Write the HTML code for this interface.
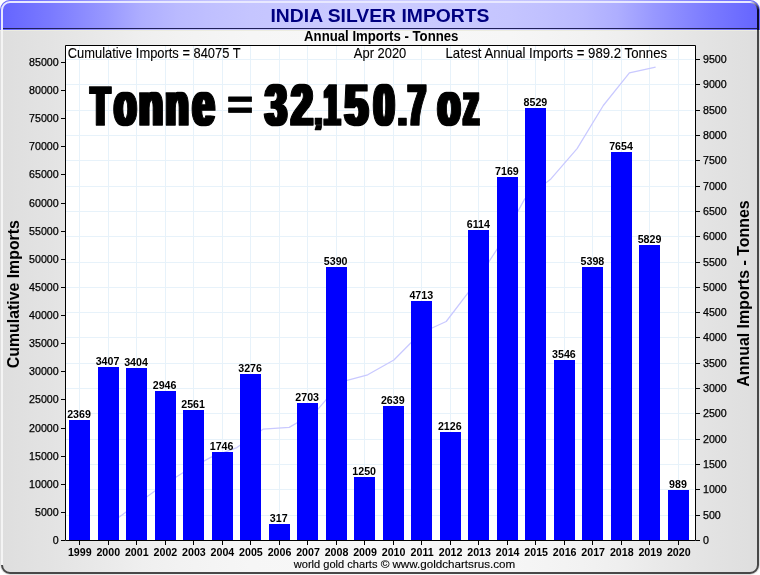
<!DOCTYPE html>
<html lang="en"><head><meta charset="utf-8"><title>India Silver Imports</title>
<style>html,body{margin:0;padding:0;background:#fff}body{width:760px;height:575px;overflow:hidden}svg{display:block}text{font-family:"Liberation Sans",sans-serif;fill:#000}</style></head><body>
<svg width="760" height="575" viewBox="0 0 760 575">
<defs>
<linearGradient id="gt" x1="0" x2="1" y1="0" y2="0"><stop offset="0.000" stop-color="#6464ff"/><stop offset="0.066" stop-color="#7a7aff"/><stop offset="0.140" stop-color="#9898ff"/><stop offset="0.187" stop-color="#aeaeff"/><stop offset="0.234" stop-color="#babaff"/><stop offset="0.280" stop-color="#c0c0ff"/><stop offset="0.330" stop-color="#c5c5ff"/><stop offset="0.500" stop-color="#cdcdff"/><stop offset="0.670" stop-color="#c5c5ff"/><stop offset="0.720" stop-color="#c0c0ff"/><stop offset="0.766" stop-color="#babaff"/><stop offset="0.813" stop-color="#aeaeff"/><stop offset="0.860" stop-color="#9898ff"/><stop offset="0.934" stop-color="#7a7aff"/><stop offset="1.000" stop-color="#6464ff"/></linearGradient>
<linearGradient id="gb" x1="0" x2="1" y1="0" y2="0"><stop offset="0.000" stop-color="#dedede"/><stop offset="0.066" stop-color="#e3e3e3"/><stop offset="0.140" stop-color="#eaeaea"/><stop offset="0.187" stop-color="#efefef"/><stop offset="0.234" stop-color="#f2f2f2"/><stop offset="0.280" stop-color="#f4f4f4"/><stop offset="0.330" stop-color="#f6f6f6"/><stop offset="0.500" stop-color="#f8f8f8"/><stop offset="0.670" stop-color="#f6f6f6"/><stop offset="0.720" stop-color="#f4f4f4"/><stop offset="0.766" stop-color="#f2f2f2"/><stop offset="0.813" stop-color="#efefef"/><stop offset="0.860" stop-color="#eaeaea"/><stop offset="0.934" stop-color="#e3e3e3"/><stop offset="1.000" stop-color="#dedede"/></linearGradient>
<clipPath id="ct"><rect x="0" y="0" width="760" height="30"/></clipPath><clipPath id="cb"><rect x="0" y="30" width="760" height="545"/></clipPath><linearGradient id="gc" gradientUnits="userSpaceOnUse" x1="750" y1="2" x2="758" y2="10"><stop offset="0" stop-color="#e8e8ff"/><stop offset="1" stop-color="#0c0c2c"/></linearGradient>
<clipPath id="fr"><rect x="0" y="0" width="760" height="575" rx="10" ry="10"/></clipPath>
<clipPath id="pc"><rect x="66" y="46" width="629" height="494"/></clipPath>
<filter id="fat" x="-5%" y="-30%" width="110%" height="160%"><feMorphology operator="dilate" radius="2 0"/><feGaussianBlur stdDeviation="0.5"/></filter>
</defs>
<g clip-path="url(#fr)">
<rect x="0" y="0" width="760" height="575" fill="url(#gb)"/>
<rect x="0" y="0" width="760" height="30" fill="url(#gt)"/>
<rect x="3" y="28" width="755" height="1" fill="#20205a"/>
<rect x="0" y="30" width="760" height="1" fill="#ecece0"/>
</g>
<g fill="none" stroke-width="2" clip-path="url(#ct)"><path d="M2 565 V10 A8 8 0 0 1 10 2 H750" stroke="#e8e8ff"/><path d="M758 10 V565 A8 8 0 0 1 750 573 H10 A8 8 0 0 1 2 565" stroke="#0c0c2c"/></g>
<g fill="none" stroke-width="2" clip-path="url(#cb)"><path d="M2 565 V10 A8 8 0 0 1 10 2 H750" stroke="#f4f4f4"/><path d="M758 10 V565 A8 8 0 0 1 750 573 H10 A8 8 0 0 1 2 565" stroke="#484848"/></g>
<path d="M750 2 A8 8 0 0 1 758 10" fill="none" stroke-width="2" stroke="url(#gc)"/>
<rect x="66" y="46" width="629" height="494" fill="#fff"/>
<path d="M66 515.5H694M66 489.5H694M66 464.5H694M66 439.5H694M66 413.5H694M66 388.5H694M66 363.5H694M66 337.5H694M66 312.5H694M66 287.5H694M66 262.5H694M66 236.5H694M66 211.5H694M66 186.5H694M66 160.5H694M66 135.5H694M66 110.5H694M66 84.5H694M66 59.5H694M79.5 46V539M108.5 46V539M136.5 46V539M165.5 46V539M193.5 46V539M222.5 46V539M250.5 46V539M279.5 46V539M307.5 46V539M336.5 46V539M364.5 46V539M393.5 46V539M421.5 46V539M450.5 46V539M478.5 46V539M507.5 46V539M535.5 46V539M564.5 46V539M592.5 46V539M621.5 46V539M649.5 46V539M678.5 46V539" stroke="#e7f2fa" stroke-width="1" fill="none"/>
<polyline points="106.0,526.7 132.2,507.5 158.3,488.4 184.5,471.8 210.7,457.4 236.9,447.6 263.0,429.2 289.2,427.4 315.4,412.2 341.5,381.9 367.7,374.8 393.9,360.0 420.1,333.5 446.2,321.5 472.4,287.2 498.6,246.8 524.7,198.9 550.9,178.9 577.1,148.6 603.3,105.5 629.4,72.8 655.6,67.2" fill="none" stroke="#c9c9ff" stroke-width="1.25" stroke-linejoin="round" clip-path="url(#pc)"/>
<rect x="69" y="420" width="21" height="120" fill="#0000ff"/>
<rect x="98" y="367" width="21" height="173" fill="#0000ff"/>
<rect x="126" y="368" width="21" height="172" fill="#0000ff"/>
<rect x="155" y="391" width="21" height="149" fill="#0000ff"/>
<rect x="183" y="410" width="21" height="130" fill="#0000ff"/>
<rect x="212" y="452" width="21" height="88" fill="#0000ff"/>
<rect x="240" y="374" width="21" height="166" fill="#0000ff"/>
<rect x="269" y="524" width="21" height="16" fill="#0000ff"/>
<rect x="297" y="403" width="21" height="137" fill="#0000ff"/>
<rect x="326" y="267" width="21" height="273" fill="#0000ff"/>
<rect x="354" y="477" width="21" height="63" fill="#0000ff"/>
<rect x="383" y="406" width="21" height="134" fill="#0000ff"/>
<rect x="411" y="301" width="21" height="239" fill="#0000ff"/>
<rect x="440" y="432" width="21" height="108" fill="#0000ff"/>
<rect x="468" y="230" width="21" height="310" fill="#0000ff"/>
<rect x="497" y="177" width="21" height="363" fill="#0000ff"/>
<rect x="525" y="108" width="21" height="432" fill="#0000ff"/>
<rect x="554" y="360" width="21" height="180" fill="#0000ff"/>
<rect x="582" y="267" width="21" height="273" fill="#0000ff"/>
<rect x="611" y="152" width="21" height="388" fill="#0000ff"/>
<rect x="639" y="245" width="21" height="295" fill="#0000ff"/>
<rect x="668" y="490" width="21" height="50" fill="#0000ff"/>
<path d="M65.5 45.5H695.5V540.5H65.5Z" fill="none" stroke="#000" stroke-width="1"/>
<path d="M61 540.5H65M61 512.5H65M61 484.5H65M61 456.5H65M61 428.5H65M61 399.5H65M61 371.5H65M61 343.5H65M61 315.5H65M61 287.5H65M61 259.5H65M61 231.5H65M61 203.5H65M61 174.5H65M61 146.5H65M61 118.5H65M61 90.5H65M61 62.5H65M696 540.5H700M696 515.5H700M696 489.5H700M696 464.5H700M696 439.5H700M696 413.5H700M696 388.5H700M696 363.5H700M696 337.5H700M696 312.5H700M696 287.5H700M696 262.5H700M696 236.5H700M696 211.5H700M696 186.5H700M696 160.5H700M696 135.5H700M696 110.5H700M696 84.5H700M696 59.5H700M79.5 541V545M108.5 541V545M136.5 541V545M165.5 541V545M193.5 541V545M222.5 541V545M250.5 541V545M279.5 541V545M307.5 541V545M336.5 541V545M364.5 541V545M393.5 541V545M421.5 541V545M450.5 541V545M478.5 541V545M507.5 541V545M535.5 541V545M564.5 541V545M592.5 541V545M621.5 541V545M649.5 541V545M678.5 541V545" stroke="#000" stroke-width="1" fill="none"/>
<g font-size="10.67px" style="stroke:#000;stroke-width:.25px">
<text x="58.7" y="544.3" text-anchor="end">0</text>
<text x="58.7" y="516.3" text-anchor="end">5000</text>
<text x="58.7" y="488.3" text-anchor="end">10000</text>
<text x="58.7" y="460.3" text-anchor="end">15000</text>
<text x="58.7" y="432.3" text-anchor="end">20000</text>
<text x="58.7" y="403.3" text-anchor="end">25000</text>
<text x="58.7" y="375.3" text-anchor="end">30000</text>
<text x="58.7" y="347.3" text-anchor="end">35000</text>
<text x="58.7" y="319.3" text-anchor="end">40000</text>
<text x="58.7" y="291.3" text-anchor="end">45000</text>
<text x="58.7" y="263.3" text-anchor="end">50000</text>
<text x="58.7" y="235.3" text-anchor="end">55000</text>
<text x="58.7" y="207.3" text-anchor="end">60000</text>
<text x="58.7" y="178.3" text-anchor="end">65000</text>
<text x="58.7" y="150.3" text-anchor="end">70000</text>
<text x="58.7" y="122.3" text-anchor="end">75000</text>
<text x="58.7" y="94.3" text-anchor="end">80000</text>
<text x="58.7" y="66.3" text-anchor="end">85000</text>
<text x="703" y="544.3">0</text>
<text x="703" y="519.3">500</text>
<text x="703" y="493.3">1000</text>
<text x="703" y="468.3">1500</text>
<text x="703" y="443.3">2000</text>
<text x="703" y="417.3">2500</text>
<text x="703" y="392.3">3000</text>
<text x="703" y="367.3">3500</text>
<text x="703" y="341.3">4000</text>
<text x="703" y="316.3">4500</text>
<text x="703" y="291.3">5000</text>
<text x="703" y="266.3">5500</text>
<text x="703" y="240.3">6000</text>
<text x="703" y="215.3">6500</text>
<text x="703" y="190.3">7000</text>
<text x="703" y="164.3">7500</text>
<text x="703" y="139.3">8000</text>
<text x="703" y="114.3">8500</text>
<text x="703" y="88.3">9000</text>
<text x="703" y="63.3">9500</text>
</g>
<g font-size="10.67px" font-weight="bold" text-anchor="middle">
<text x="79.8" y="556">1999</text>
<text x="108.3" y="556">2000</text>
<text x="136.8" y="556">2001</text>
<text x="165.4" y="556">2002</text>
<text x="193.9" y="556">2003</text>
<text x="222.4" y="556">2004</text>
<text x="250.9" y="556">2005</text>
<text x="279.5" y="556">2006</text>
<text x="308.0" y="556">2007</text>
<text x="336.5" y="556">2008</text>
<text x="365.0" y="556">2009</text>
<text x="393.6" y="556">2010</text>
<text x="422.1" y="556">2011</text>
<text x="450.6" y="556">2012</text>
<text x="479.1" y="556">2013</text>
<text x="507.7" y="556">2014</text>
<text x="536.2" y="556">2015</text>
<text x="564.7" y="556">2016</text>
<text x="593.2" y="556">2017</text>
<text x="621.8" y="556">2018</text>
<text x="650.3" y="556">2019</text>
<text x="678.8" y="556">2020</text>
<text x="79.0" y="417.8">2369</text>
<text x="107.5" y="364.8">3407</text>
<text x="136.0" y="365.8">3404</text>
<text x="164.6" y="388.8">2946</text>
<text x="193.1" y="407.8">2561</text>
<text x="221.6" y="449.8">1746</text>
<text x="250.1" y="371.8">3276</text>
<text x="278.7" y="521.8">317</text>
<text x="307.2" y="400.8">2703</text>
<text x="335.7" y="264.8">5390</text>
<text x="364.2" y="474.8">1250</text>
<text x="392.8" y="403.8">2639</text>
<text x="421.3" y="298.8">4713</text>
<text x="449.8" y="429.8">2126</text>
<text x="478.3" y="227.8">6114</text>
<text x="506.9" y="174.8">7169</text>
<text x="535.4" y="105.8">8529</text>
<text x="563.9" y="357.8">3546</text>
<text x="592.4" y="264.8">5398</text>
<text x="621.0" y="149.8">7654</text>
<text x="649.5" y="242.8">5829</text>
<text x="678.0" y="487.8">989</text>
</g>
<text x="270.51" y="21.8" font-size="19px" font-weight="bold" textLength="218.95" lengthAdjust="spacingAndGlyphs" style="fill:#000080">INDIA SILVER IMPORTS</text>
<text x="304.07" y="40.7" font-size="13.8px" font-weight="bold" textLength="154.37" lengthAdjust="spacingAndGlyphs">Annual Imports - Tonnes</text>
<text x="67.74" y="58" font-size="14.2px" stroke="#000" stroke-width=".1" textLength="172.85" lengthAdjust="spacingAndGlyphs">Cumulative Imports = 84075 T</text>
<text x="353.87" y="58" font-size="14.2px" stroke="#000" stroke-width=".1" textLength="52.43" lengthAdjust="spacingAndGlyphs">Apr 2020</text>
<text x="445.52" y="58" font-size="14.2px" stroke="#000" stroke-width=".1" textLength="221.56" lengthAdjust="spacingAndGlyphs">Latest Annual Imports = 989.2 Tonnes</text>
<text y="567.8" font-size="10.9px" stroke="#000" stroke-width=".12"><tspan x="293.72" textLength="83.78" lengthAdjust="spacingAndGlyphs">world gold charts</tspan> <tspan x="380.72" textLength="8.77" lengthAdjust="spacingAndGlyphs">©</tspan> <tspan x="392.42" textLength="122.85" lengthAdjust="spacingAndGlyphs">www.goldchartsrus.com</tspan></text>
<text transform="translate(19.4 367.5) rotate(-90)" x="-0.65" y="0" font-size="16.9px" font-weight="bold" textLength="148.00" lengthAdjust="spacingAndGlyphs">Cumulative Imports</text>
<text transform="translate(749.1 386.4) rotate(-90)" x="-0.40" y="0" font-size="16.9px" font-weight="bold" textLength="186.45" lengthAdjust="spacingAndGlyphs">Annual Imports - Tonnes</text>
<g filter="url(#fat)" aria-label="Tonne = 32,150.7 oz"><text transform="translate(0 124.7) scale(0.6 1)" font-size="55.4px" font-weight="bold" xml:space="preserve" style="fill:#000;stroke:#000;stroke-width:1.4px;stroke-linejoin:round"><tspan font-size="55.4px" x="151.8" y="0.0" textLength="31.2" lengthAdjust="spacingAndGlyphs">T</tspan><tspan font-size="61.0px" x="190.3" y="0.0" textLength="36.8" lengthAdjust="spacingAndGlyphs">o</tspan><tspan font-size="61.0px" x="231.7" y="0.0" textLength="39.8" lengthAdjust="spacingAndGlyphs">n</tspan><tspan font-size="61.0px" x="275.7" y="0.0" textLength="38.5" lengthAdjust="spacingAndGlyphs">n</tspan><tspan font-size="61.0px" x="320.8" y="0.0" textLength="36.6" lengthAdjust="spacingAndGlyphs">e</tspan> <tspan font-size="40.2px" x="381.8" y="-5.4" style="stroke-width:0.8" textLength="36.9" lengthAdjust="spacingAndGlyphs">=</tspan> <tspan font-size="56.9px" x="442.1" y="0.0" textLength="35.9" lengthAdjust="spacingAndGlyphs">3</tspan><tspan font-size="56.9px" x="485.6" y="0.0" textLength="35.7" lengthAdjust="spacingAndGlyphs">2</tspan><tspan font-size="36.2px" x="526.2" y="-0.6" textLength="8.9" lengthAdjust="spacingAndGlyphs">,</tspan><tspan font-size="56.9px" x="539.9" y="0.0" textLength="26.4" lengthAdjust="spacingAndGlyphs">1</tspan><tspan font-size="56.9px" x="574.6" y="0.0" textLength="38.7" lengthAdjust="spacingAndGlyphs">5</tspan><tspan font-size="56.9px" x="623.1" y="0.0" textLength="34.4" lengthAdjust="spacingAndGlyphs">0</tspan><tspan font-size="45.0px" x="664.4" y="0.2" textLength="12.3" lengthAdjust="spacingAndGlyphs">.</tspan><tspan font-size="56.9px" x="680.5" y="0.0" textLength="28.8" lengthAdjust="spacingAndGlyphs">7</tspan> <tspan font-size="61.0px" x="729.6" y="0.0" textLength="37.4" lengthAdjust="spacingAndGlyphs">o</tspan><tspan font-size="61.0px" x="772.5" y="0.0" textLength="25.4" lengthAdjust="spacingAndGlyphs">z</tspan></text></g>
</svg></body></html>
